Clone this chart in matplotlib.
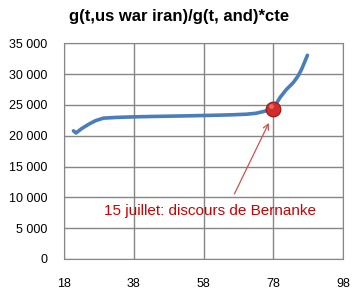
import matplotlib.pyplot as plt
from matplotlib.ticker import FuncFormatter

# series
x_vals = [20.7, 21.4, 23.0, 25.0, 27.0, 29.3, 33.0, 38.0, 43.0, 48.0, 53.0, 58.0,
          62.0, 66.0, 70.3, 73.0, 75.1, 78.0, 79.9, 81.8, 83.7, 85.1, 86.1, 87.1, 87.8]
y_vals = [20800, 20450, 21150, 21850, 22450, 22860, 22980, 23070, 23130, 23180, 23230, 23290,
          23340, 23400, 23500, 23650, 23920, 24400, 26180, 27530, 28600, 29680, 30760, 32100, 33070]

event_x = 78.0
event_y = 24400
event_label = "15 juillet: discours de Bernanke"

x_ticks = [18, 38, 58, 78, 98]
y_ticks = list(range(0, 35001, 5000))

plt.rcParams['font.family'] = ['Liberation Sans', 'DejaVu Sans']

fig = plt.figure(figsize=(3.58, 2.97), dpi=100)
ax = fig.add_axes([0.179, 0.128, 0.779, 0.726])

ax.plot(x_vals, y_vals, color='#4a7ebb', lw=2.6, solid_capstyle='round', zorder=3)
ax.plot([event_x], [event_y], 'o', ms=10.6, color='#d42a2a', mec='#8b1a1a', mew=0.8, zorder=4)
ax.plot([event_x - 0.6], [event_y + 500], 'o', ms=3.5, color='#f08080', mew=0, alpha=0.7, zorder=5)

ax.annotate('', xy=(77.1, 22500), xytext=(66.5, 10150),
            arrowprops=dict(arrowstyle='->', color='#d05050', lw=0.9), zorder=2)
ax.text(60.0, 7800, event_label, color='#cc0000', fontsize=11, ha='center', va='center')

ax.set_xlim(18, 98)
ax.set_ylim(0, 35000)
ax.set_xticks(x_ticks)
ax.set_yticks(y_ticks)
ax.yaxis.set_major_formatter(FuncFormatter(lambda v, p: f"{int(v):,}".replace(',', ' ')))
ax.grid(True, color='#868686', lw=1)
ax.set_axisbelow(True)
for s in ax.spines.values():
    s.set_color('#868686')
ax.tick_params(length=0, labelsize=9, colors='black')
ax.tick_params(axis='x', pad=14)
ax.tick_params(axis='y', pad=12)

fig.text(0.499, 0.945, "g(t,us war iran)/g(t, and)*cte", ha='center', va='center',
         fontsize=12, fontweight='bold')

fig.savefig('out.png', dpi=100)
